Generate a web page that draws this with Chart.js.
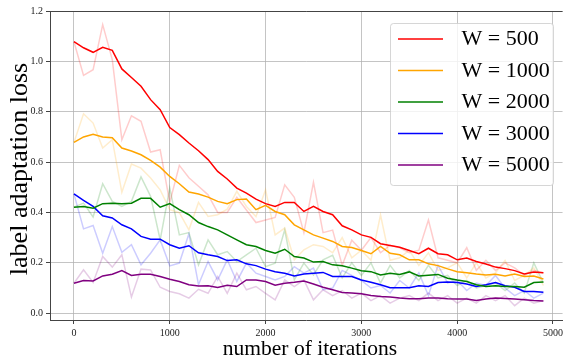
<!DOCTYPE html>
<html>
<head>
<meta charset="utf-8">
<script src="https://cdn.jsdelivr.net/npm/chart.js@4"></script>
<style>
  body { margin: 0; background: #fff; }
  #wrap { width: 566px; height: 359px; }
</style>
</head>
<body>
<div id="wrap"><canvas id="lossChart"></canvas></div>
<script>
// iterations 0..4900 step 100
const iterations = [0,100,200,300,400,500,600,700,800,900,1000,1100,1200,1300,1400,1500,1600,1700,1800,1900,
  2000,2100,2200,2300,2400,2500,2600,2700,2800,2900,3000,3100,3200,3300,3400,3500,3600,3700,3800,3900,
  4000,4100,4200,4300,4400,4500,4600,4700,4800,4900];
const xTicks = [0, 1000, 2000, 3000, 4000, 5000];
const yTicks = [0.0, 0.2, 0.4, 0.6, 0.8, 1.0, 1.2];

const labels = ["W = 500", "W = 1000", "W = 2000", "W = 3000", "W = 5000"];
const colors = ["255,0,0", "255,165,0", "0,128,0", "0,0,255", "128,0,128"];

// smoothed curves
const w500 = [1.078,1.054,1.036,1.056,1.044,0.970,0.936,0.901,0.848,0.808,0.737,0.709,0.676,0.645,
  0.610,0.563,0.533,0.497,0.477,0.453,0.435,0.424,0.440,0.440,0.404,0.424,0.404,
  0.391,0.347,0.331,0.311,0.301,0.276,0.269,0.262,0.249,0.236,0.258,0.236,0.232,0.212,
  0.219,0.205,0.195,0.183,0.177,0.169,0.156,0.164,0.161];
const w1000 = [0.678,0.700,0.710,0.700,0.697,0.656,0.644,0.629,0.607,0.580,0.543,0.514,0.481,0.473,
  0.461,0.444,0.435,0.451,0.453,0.411,0.428,0.404,0.391,0.351,0.331,0.311,0.298,
  0.285,0.265,0.261,0.249,0.236,0.265,0.238,0.232,0.212,0.212,0.196,0.189,0.176,0.165,
  0.161,0.156,0.152,0.155,0.148,0.156,0.146,0.148,0.136];
const w2000 = [0.421,0.424,0.417,0.435,0.437,0.435,0.437,0.456,0.456,0.421,0.435,0.411,0.391,0.360,
  0.344,0.331,0.311,0.291,0.272,0.265,0.249,0.238,0.254,0.225,0.219,0.203,0.205,
  0.192,0.188,0.179,0.169,0.165,0.152,0.159,0.154,0.164,0.148,0.151,0.154,0.139,0.132,
  0.126,0.113,0.106,0.109,0.106,0.106,0.103,0.122,0.124];
const w3000 = [0.474,0.448,0.424,0.387,0.378,0.351,0.335,0.305,0.294,0.294,0.272,0.258,0.268,0.240,
  0.232,0.225,0.209,0.212,0.196,0.189,0.175,0.165,0.159,0.148,0.156,0.159,0.162,
  0.146,0.146,0.146,0.132,0.123,0.113,0.101,0.101,0.101,0.109,0.106,0.122,0.124,0.122,
  0.116,0.106,0.113,0.122,0.109,0.103,0.086,0.086,0.083];
const w5000 = [0.119,0.130,0.128,0.148,0.155,0.169,0.150,0.155,0.155,0.146,0.135,0.126,0.113,0.108,
  0.109,0.102,0.111,0.106,0.132,0.132,0.126,0.111,0.119,0.123,0.128,0.116,0.103,
  0.093,0.082,0.080,0.077,0.070,0.066,0.064,0.060,0.057,0.057,0.060,0.060,0.057,0.056,
  0.056,0.050,0.056,0.060,0.058,0.056,0.053,0.050,0.048];

// raw (faint) curves
const raw500 = [1.078,0.944,0.967,1.146,1.007,0.689,0.784,0.762,0.640,0.649,0.440,0.587,0.538,0.504,
  0.470,0.400,0.400,0.460,0.410,0.360,0.370,0.380,0.510,0.460,0.320,0.520,0.320,
  0.330,0.190,0.290,0.250,0.300,0.240,0.270,0.260,0.240,0.250,0.370,0.220,0.210,0.200,
  0.260,0.170,0.210,0.170,0.200,0.180,0.150,0.170,0.160];
const raw1000 = [0.678,0.792,0.755,0.656,0.689,0.480,0.592,0.576,0.537,0.490,0.411,0.399,0.331,0.440,
  0.384,0.391,0.413,0.484,0.424,0.384,0.490,0.311,0.338,0.212,0.252,0.272,0.265,
  0.240,0.300,0.220,0.250,0.210,0.390,0.210,0.220,0.250,0.190,0.240,0.170,0.180,0.200,
  0.140,0.200,0.140,0.160,0.210,0.130,0.150,0.180,0.110];
const raw2000 = [0.421,0.437,0.382,0.514,0.444,0.424,0.444,0.541,0.464,0.291,0.497,0.311,0.320,0.192,
  0.291,0.232,0.245,0.205,0.232,0.258,0.185,0.199,0.331,0.132,0.199,0.152,0.212,
  0.230,0.140,0.200,0.150,0.200,0.120,0.190,0.140,0.170,0.130,0.190,0.140,0.150,0.110,
  0.130,0.100,0.110,0.120,0.090,0.120,0.080,0.200,0.120];
const raw3000 = [0.474,0.335,0.348,0.238,0.344,0.242,0.272,0.192,0.238,0.291,0.188,0.199,0.315,0.113,
  0.205,0.132,0.212,0.126,0.199,0.159,0.146,0.132,0.146,0.185,0.159,0.179,0.093,
  0.100,0.170,0.150,0.130,0.100,0.110,0.080,0.130,0.100,0.160,0.070,0.190,0.120,0.130,
  0.090,0.120,0.110,0.150,0.100,0.070,0.090,0.060,0.080];
const raw5000 = [0.119,0.172,0.122,0.225,0.183,0.232,0.064,0.175,0.172,0.103,0.086,0.077,0.060,0.095,
  0.079,0.146,0.079,0.159,0.093,0.106,0.079,0.053,0.132,0.106,0.132,0.053,0.093,
  0.070,0.090,0.060,0.080,0.050,0.070,0.040,0.060,0.070,0.050,0.080,0.050,0.070,0.040,
  0.060,0.040,0.070,0.050,0.070,0.030,0.060,0.040,0.050];

const smoothSeries = [w500, w1000, w2000, w3000, w5000];
const rawSeries = [raw500, raw1000, raw2000, raw3000, raw5000];

const serif = "'Liberation Serif', 'DejaVu Serif', serif";
const xTitle = "number of iterations";
const yTitle = "label adaptation loss";

function toPoints(values) {
  return values.map((v, i) => ({ x: iterations[i], y: v }));
}

// smoothed first so they are drawn on top
const datasets = [];
smoothSeries.forEach((s, k) => {
  datasets.push({
    label: labels[k],
    data: toPoints(s),
    borderColor: `rgb(${colors[k]})`,
    borderWidth: 1.5,
    pointRadius: 0,
    tension: 0,
    isMain: true
  });
});
rawSeries.forEach((s, k) => {
  datasets.push({
    label: labels[k] + " raw",
    data: toPoints(s),
    borderColor: `rgba(${colors[k]},0.2)`,
    borderWidth: 1.5,
    pointRadius: 0,
    tension: 0
  });
});

// axis titles, top spine and legend box
const extras = {
  id: "extras",
  afterDraw(chart) {
    const ctx = chart.ctx;
    const area = chart.chartArea;
    ctx.save();
    ctx.strokeStyle = "#444";
    ctx.lineWidth = 1;
    ctx.beginPath();
    ctx.moveTo(area.left, area.top + 0.5);
    ctx.lineTo(area.right, area.top + 0.5);
    ctx.stroke();

    // titles
    ctx.fillStyle = "#000";
    ctx.textAlign = "center";
    ctx.textBaseline = "alphabetic";
    ctx.font = "21.5px " + serif;
    ctx.fillText(xTitle, 310, 355);
    ctx.save();
    ctx.translate(27, 169);
    ctx.rotate(-Math.PI / 2);
    ctx.font = "26px " + serif;
    ctx.fillText(yTitle, 0, 0);
    ctx.restore();

    // legend
    const bx = 390, by = 23, bw = 163, bh = 162;
    ctx.fillStyle = "rgba(255,255,255,0.8)";
    ctx.strokeStyle = "rgba(204,204,204,0.8)";
    ctx.beginPath();
    ctx.roundRect(bx + 0.5, by + 0.5, bw, bh, 3);
    ctx.fill();
    ctx.stroke();

    const mains = chart.data.datasets.filter(d => d.isMain);
    ctx.font = "22px " + serif;
    ctx.textBaseline = "middle";
    ctx.textAlign = "left";
    mains.forEach((d, k) => {
      const y = 39 + k * 31.5;
      ctx.strokeStyle = d.borderColor;
      ctx.lineWidth = 1.5;
      ctx.beginPath();
      ctx.moveTo(398, y);
      ctx.lineTo(443, y);
      ctx.stroke();
      ctx.fillStyle = "#000";
      ctx.fillText(d.label, 461.5, y + 0.5);
    });
    ctx.restore();
  }
};

new Chart(document.getElementById("lossChart"), {
  type: "line",
  data: { datasets },
  options: {
    responsive: true,
    maintainAspectRatio: false,
    animation: false,
    layout: { padding: { top: 11, right: 1, left: 0, bottom: 0 } },
    plugins: { legend: { display: false }, tooltip: { enabled: false } },
    scales: {
      x: {
        type: "linear",
        min: -250,
        max: 5100,
        afterBuildTicks: s => { s.ticks = xTicks.map(v => ({ value: v })); },
        afterFit: s => { s.height = 39; },
        ticks: { font: { family: serif, size: 10 }, color: "#222", padding: 3, maxRotation: 0, callback: v => String(v) },
        grid: { color: "rgba(176,176,176,0.75)", lineWidth: 1, tickLength: 4, tickColor: "#444" },
        border: { color: "#444", width: 1 }
      },
      y: {
        min: -0.027,
        max: 1.2,
        afterBuildTicks: s => { s.ticks = yTicks.map(v => ({ value: v })); },
        afterFit: s => { s.width = 50; },
        ticks: { font: { family: serif, size: 10 }, color: "#222", padding: 3, callback: v => v.toFixed(1) },
        grid: { color: "rgba(176,176,176,0.75)", lineWidth: 1, tickLength: 4, tickColor: "#444" },
        border: { color: "#444", width: 1 }
      }
    }
  },
  plugins: [extras]
});
</script>
</body>
</html>
